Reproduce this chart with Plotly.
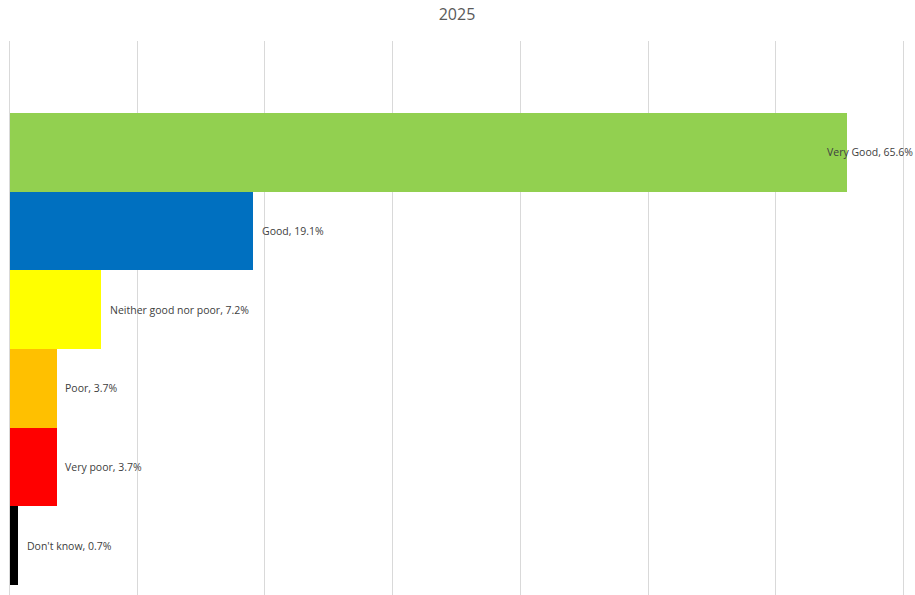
import plotly.graph_objects as go

categories = ["Very Good", "Good", "Neither good nor poor", "Poor", "Very poor", "Don't know"]
values = [65.6, 19.1, 7.2, 3.7, 3.7, 0.7]
colors = ["#92D050", "#0070C0", "#FFFF00", "#FFC000", "#FF0000", "#000000"]
title_text = "2025"

W, H = 915, 595
xmax = 70
pad_units = 0.12  # small range padding so the edge gridlines are drawn
k = (903 - 9.7) / xmax  # px per unit
L = 9.7 - pad_units * k
R = W - (903 + pad_units * k)
T, B = 41, 0

FONT = "Open Sans"
LABEL_SIZE = 10.5

fig = go.Figure()
fig.add_trace(go.Bar(
    y=categories, x=values, orientation="h",
    marker=dict(color=colors, line=dict(width=0)),
    hoverinfo="skip", showlegend=False,
))

plot_w = W - L - R
annotations = []
for cat, v in zip(categories, values):
    label = f"{cat}, {v:.1f}%"
    est_w = len(label) * 5.6
    x_px = 9.7 + v * k + 6
    if x_px + est_w > W - 2:
        annotations.append(dict(x=(W - L) / plot_w, xref="paper", y=cat, yref="y",
                                text=label, showarrow=False, xanchor="right",
                                font=dict(size=LABEL_SIZE, color="#404040", family=FONT)))
    else:
        annotations.append(dict(x=v, xref="x", y=cat, yref="y", text=label,
                                showarrow=False, xanchor="left", xshift=6.5,
                                font=dict(size=LABEL_SIZE, color="#404040", family=FONT)))

fig.update_layout(
    width=W, height=H,
    margin=dict(l=L, r=R, t=T, b=B, pad=0),
    paper_bgcolor="white", plot_bgcolor="white",
    bargap=0,
    title=dict(text=title_text, x=457 / W, xanchor="center", y=1 - 14 / H,
               yanchor="middle", yref="container",
               font=dict(size=16, color="#595959", family=FONT)),
    xaxis=dict(range=[-pad_units, xmax + pad_units], tick0=0, dtick=10, showgrid=True,
               gridcolor="#D9D9D9", gridwidth=1,
               showticklabels=False, zeroline=False, showline=False, fixedrange=True),
    yaxis=dict(categoryorder="array", categoryarray=categories[::-1],
               range=[-0.627, 6.416], showticklabels=False, showgrid=False,
               zeroline=False, showline=False, fixedrange=True),
    annotations=annotations,
)

fig.write_html(
    "out.html",
    config={"displayModeBar": False},
    post_script="document.body.style.margin='0';document.body.style.overflow='hidden';",
)
